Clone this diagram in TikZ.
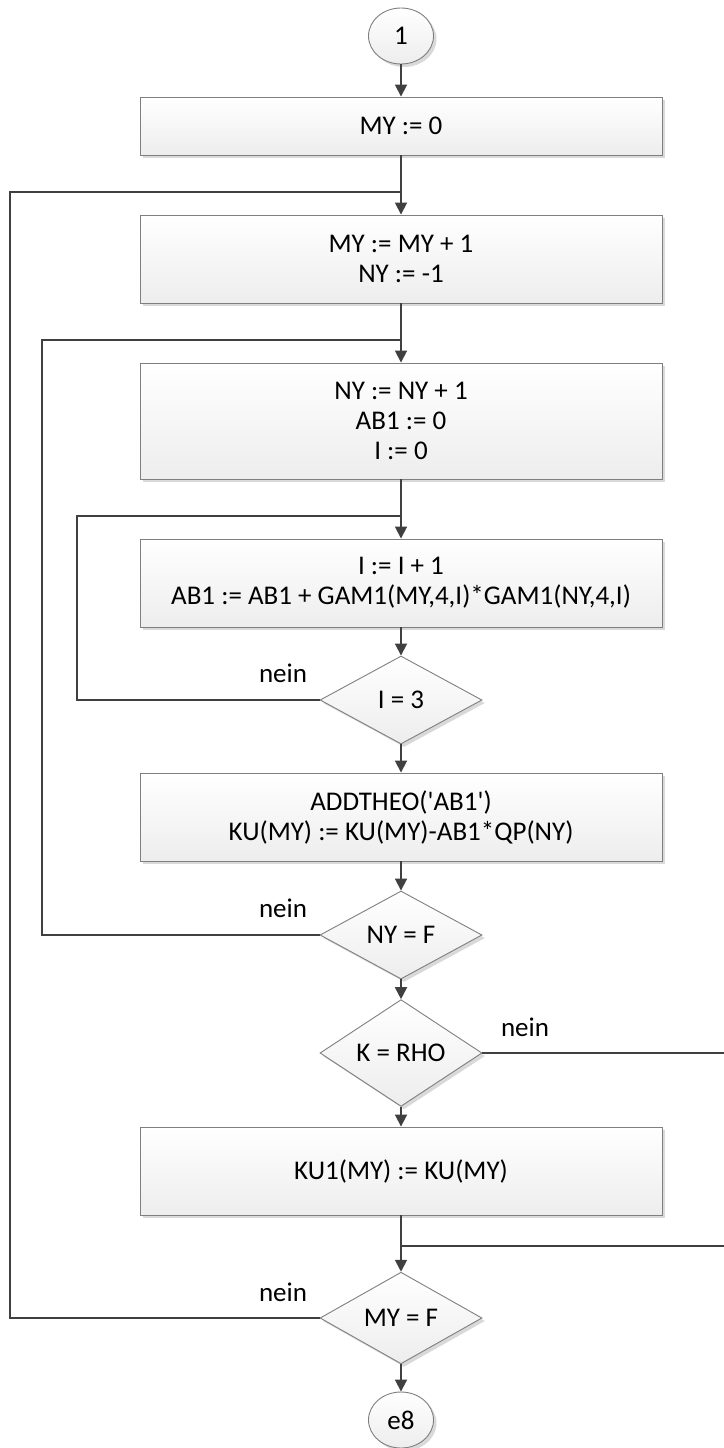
\documentclass[tikz,border=0pt]{standalone}
\usepackage{fontspec}
\setmainfont{Carlito}
\usetikzlibrary{shapes.geometric,arrows.meta,shadows}
\definecolor{conncol}{HTML}{404040}
\definecolor{edgecol}{HTML}{7F7F7F}
\definecolor{fillbot}{HTML}{EDEDED}
\tikzset{
  base/.style={draw=edgecol, line width=0.9pt, top color=white, bottom color=fillbot,
    inner sep=0pt, align=center, font=\fontsize{27}{30}\selectfont,
    drop shadow={shadow xshift=3pt, shadow yshift=-3pt, fill=black!25, opacity=0.6}},
  stepbox/.style={base, rectangle, minimum width=522pt},
  decision/.style={base, diamond, minimum width=162pt, minimum height=88pt},
  connector/.style={base, ellipse, minimum width=65pt, minimum height=56pt},
  conn/.style={draw=conncol, line width=1.8pt},
  arr/.style={conn, -{Triangle[length=12pt,width=12pt]}},
  lbl/.style={font=\fontsize{27}{30}\selectfont, inner sep=0pt}
}
\begin{document}
\begin{tikzpicture}[x=1pt,y=-1pt]
\useasboundingbox (0,0) rectangle (723,1448);

% start connector and process steps
\node[connector] (c1) at (401,36) {1};
\node[stepbox, minimum height=58pt] (b1) at (401,126) {MY := 0};
\node[stepbox, minimum height=88pt] (b2) at (401,259) {MY := MY + 1\\NY := -1};
\node[stepbox, minimum height=116pt] (b3) at (401,421) {NY := NY + 1\\AB1 := 0\\I := 0};
\node[stepbox, minimum height=88pt] (b4) at (401,583) {I := I + 1\\AB1 := AB1 + GAM1(MY,4,I)*GAM1(NY,4,I)};
\node[decision] (d1) at (401,700) {I = 3};
\node[stepbox, minimum height=88pt] (b5) at (401,817) {ADDTHEO(\textquotesingle AB1\textquotesingle)\\KU(MY) := KU(MY)-AB1*QP(NY)};
\node[decision] (d2) at (401,935) {NY = F};
\node[decision] (d3) at (401,1053) {K = RHO};
\node[stepbox, minimum height=88pt] (b6) at (401,1171) {KU1(MY) := KU(MY)};
\node[decision] (d4) at (401,1318) {MY = F};
\node[connector] (c2) at (401,1420) {e8};

% junction points on the main trunk and loop rails
\coordinate (jA) at (401,192);
\coordinate (jB) at (401,340);
\coordinate (jC) at (401,516);
\coordinate (jM) at (401,1246);
\coordinate (railA) at (10,0);
\coordinate (railB) at (42,0);
\coordinate (railC) at (77,0);
\coordinate (railR) at (726,0);

% main flow
\draw[arr] (c1) -- (b1);
\draw[arr] (b1) -- (b2);
\draw[arr] (b2) -- (b3);
\draw[arr] (b3) -- (b4);
\draw[arr] (b4) -- (d1);
\draw[arr] (d1) -- (b5);
\draw[arr] (b5) -- (d2);
\draw[arr] (d2) -- (d3);
\draw[arr] (d3) -- (b6);
\draw[conn] (b6) -- (jM);
\draw[arr] (jM) -- (d4);
\draw[arr] (d4) -- (c2);

% loop back edges
\draw[conn] (d1.west) -- (d1.west -| railC) |- (jC);
\draw[conn] (d2.west) -- (d2.west -| railB) |- (jB);
\draw[conn] (d4.west) -- (d4.west -| railA) |- (jA);
\draw[conn] (d3.east) -- (d3.east -| railR) |- (jM);

% branch labels
\node[lbl] (n1) at (283,673) {nein};
\node[lbl] (n2) at (283,908) {nein};
\node[lbl] (n3) at (525,1027) {nein};
\node[lbl] (n4) at (283,1292) {nein};
\end{tikzpicture}
\end{document}
